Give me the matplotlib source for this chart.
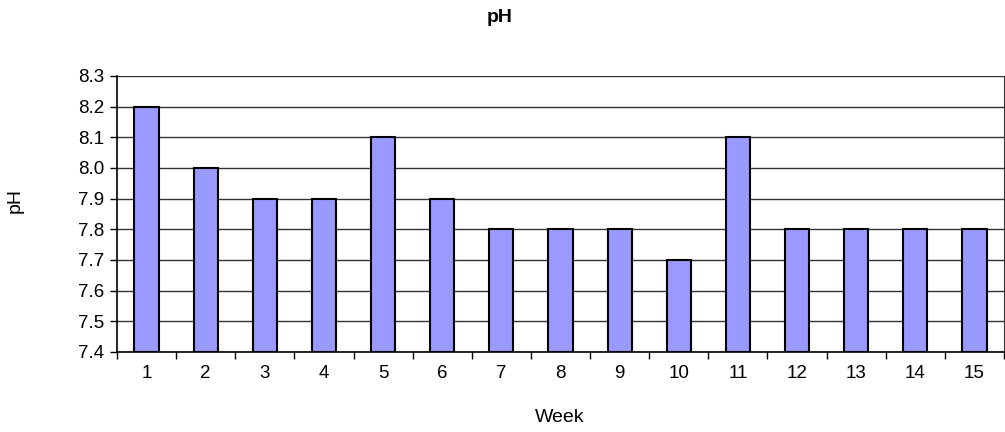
import matplotlib
matplotlib.use("Agg")
import matplotlib.pyplot as plt
import numpy as np

weeks = [str(i) for i in range(1, 16)]
ph = [8.2, 8.0, 7.9, 7.9, 8.1, 7.9, 7.8, 7.8, 7.8, 7.7, 8.1, 7.8, 7.8, 7.8, 7.8]
yticks = [7.4, 7.5, 7.6, 7.7, 7.8, 7.9, 8.0, 8.1, 8.2, 8.3]

plt.rcParams['font.family'] = ['Liberation Sans', 'DejaVu Sans']

fig = plt.figure(figsize=(10.05, 4.32), dpi=100)
ax = fig.add_axes([117/1005, 1 - 352/432, (1004-117)/1005, (352-76)/432])

x = np.arange(len(weeks))
base = 7.4
ax.bar(x, [v - base for v in ph], bottom=base, width=0.41, color='#9999FF',
       edgecolor='black', linewidth=1.5, zorder=3)

ax.set_xlim(-0.5, len(weeks) - 0.5)
ax.set_ylim(7.4, 8.3)
ax.set_yticks(yticks)
ax.set_yticklabels([f"{v:.1f}" for v in yticks])
ax.yaxis.grid(True, color='#333333', linewidth=1.0, zorder=0)
ax.set_axisbelow(True)

ax.set_xticks(x)
ax.set_xticklabels(weeks)
ax.tick_params(axis='x', which='major', length=0, labelsize=13.5, pad=9)
ax.set_xticks(np.arange(-0.5, len(weeks)), minor=True)
ax.tick_params(axis='x', which='minor', length=5, width=1, direction='out')
ax.tick_params(axis='y', length=5, width=1, direction='out', labelsize=13.5, pad=4)

ax.spines['top'].set_visible(False)
ax.spines['right'].set_visible(True)
ax.spines['right'].set_color('#333333')
ax.spines['left'].set_linewidth(1.2)
ax.spines['bottom'].set_linewidth(1.2)

fig.text(500/1005, 1 - 18/432, 'pH', ha='center', va='center', fontsize=14, fontweight='bold')
fig.text(560/1005, 1 - 418/432, 'Week', ha='center', va='center', fontsize=14)
fig.text(15/1005, 1 - 200/432, 'pH', ha='center', va='center', fontsize=14, rotation=90)

fig.savefig('out.png', dpi=100)
